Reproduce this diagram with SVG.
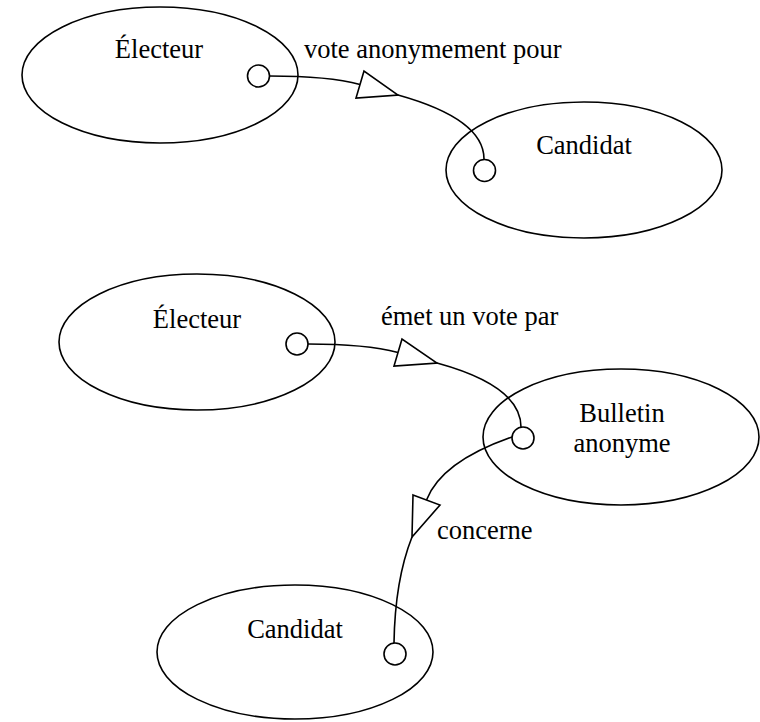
<svg xmlns="http://www.w3.org/2000/svg" width="760" height="722" viewBox="0 0 760 722">
  <style>
    .node ellipse { fill: #ffffff; stroke: #000000; stroke-width: 1.6; }
    .port { fill: #ffffff; stroke: #000000; stroke-width: 1.6; }
    .label { font-family: "Liberation Serif", "Times New Roman", serif; font-size: 26.5px; fill: #000000; }
    .mid { text-anchor: middle; }
    .edge { fill: none; stroke: #000000; stroke-width: 1.6; }
    .head { fill: #ffffff; stroke: #000000; stroke-width: 1.6; stroke-linejoin: miter; }
  </style>
  <rect width="760" height="722" fill="#ffffff"/>

  <!-- upper statement: Électeur vote anonymement pour Candidat -->
  <g id="electeur-1" class="node">
    <ellipse cx="160" cy="75" rx="138" ry="68"/>
    <text class="label mid" x="159" y="58">Électeur</text>
  </g>
  <g id="candidat-1" class="node">
    <ellipse cx="584" cy="170" rx="138" ry="68"/>
    <text class="label mid" x="584" y="154">Candidat</text>
  </g>

  <!-- lower statement: Électeur émet un vote par Bulletin anonyme, qui concerne Candidat -->
  <g id="electeur-2" class="node">
    <ellipse cx="197" cy="342" rx="138" ry="68"/>
    <text class="label mid" x="197" y="328">Électeur</text>
  </g>
  <g id="bulletin" class="node">
    <ellipse cx="621" cy="437" rx="138" ry="68"/>
    <text class="label mid" x="622" y="422">Bulletin</text>
    <text class="label mid" x="622" y="452">anonyme</text>
  </g>
  <g id="candidat-2" class="node">
    <ellipse cx="295" cy="652" rx="138" ry="67"/>
    <text class="label mid" x="295" y="638">Candidat</text>
  </g>

  <g id="connectors">
    <!-- vote anonymement pour -->
    <path class="edge" d="M269.5,76 Q329,76 360,84.5"/>
    <polygon class="head" points="364,71 356,98 398,95"/>
    <path class="edge" d="M398,95 Q484,119 484,159"/>
    <circle class="port" cx="258.5" cy="76" r="11"/>
    <circle class="port" cx="484.5" cy="170.5" r="11"/>
    <text class="label" x="304" y="58">vote anonymement pour</text>

    <!-- émet un vote par -->
    <path class="edge" d="M308,344 Q366,344 398,352.5"/>
    <polygon class="head" points="402,339 394,366 437,363"/>
    <path class="edge" d="M437,363 Q521,386 521,427"/>
    <circle class="port" cx="297" cy="344" r="11"/>
    <text class="label" x="381" y="325">émet un vote par</text>

    <!-- concerne -->
    <path class="edge" d="M512,437 Q441.6,461.5 426.5,500"/>
    <polygon class="head" points="413,495 440,505 412,537"/>
    <path class="edge" d="M412,537 Q395,580 394,643"/>
    <circle class="port" cx="523" cy="438" r="11"/>
    <circle class="port" cx="395" cy="654" r="11"/>
    <text class="label" x="437" y="539">concerne</text>
  </g>
</svg>
